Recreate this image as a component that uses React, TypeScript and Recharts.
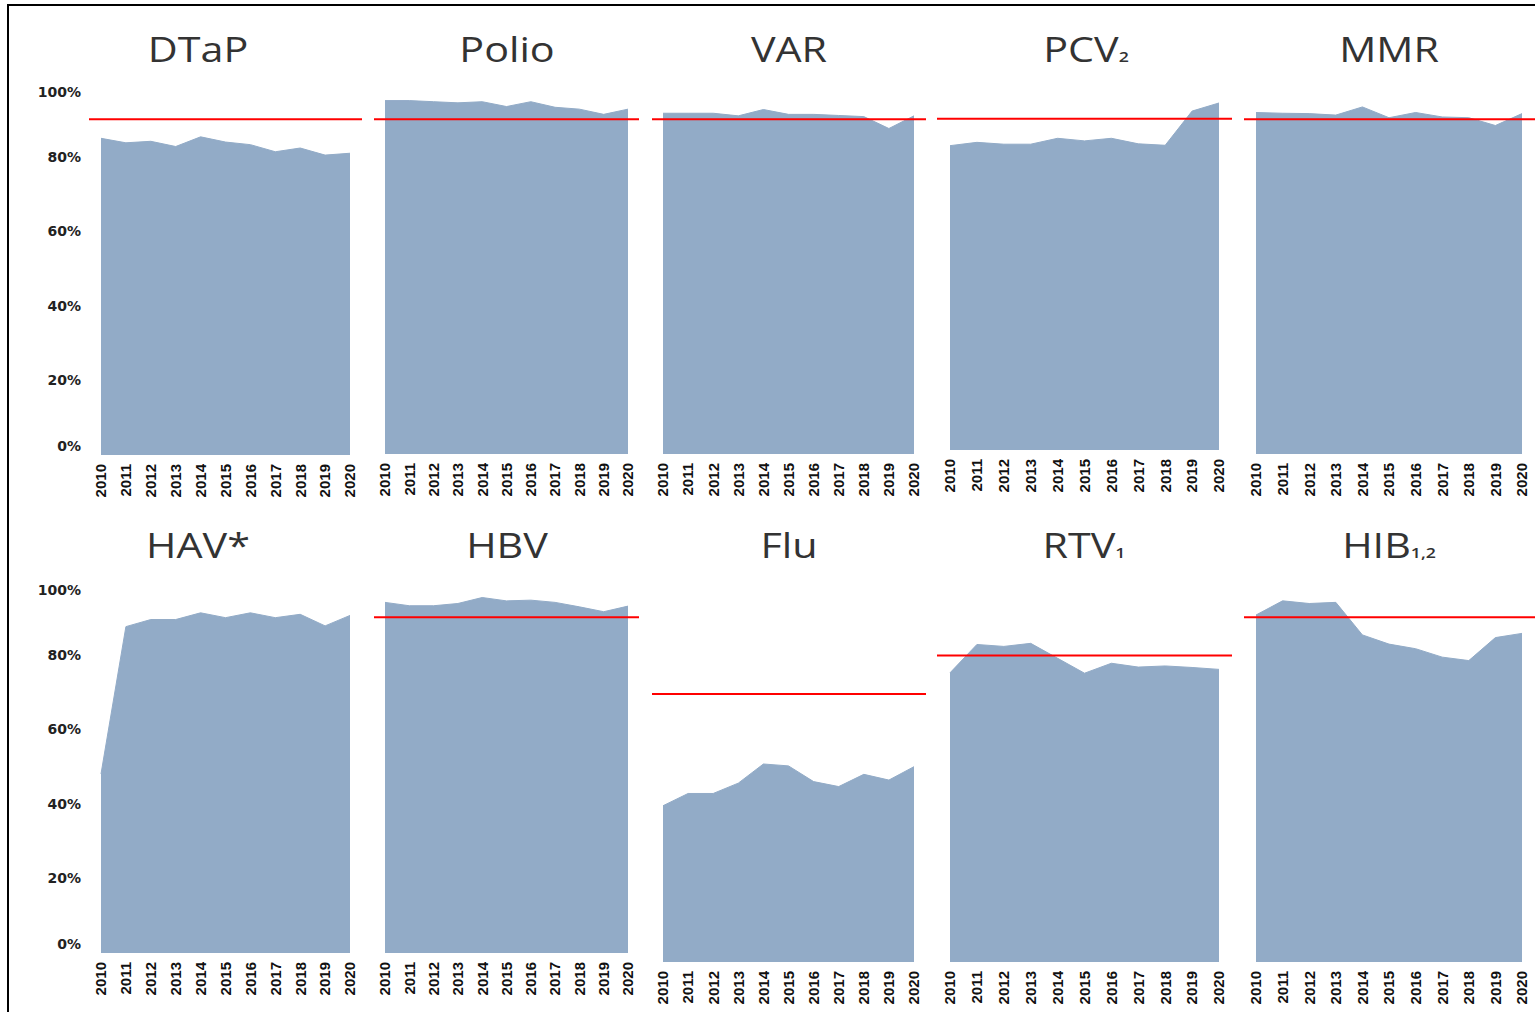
import React from "react";
import { AreaChart, Area, XAxis, YAxis, ReferenceLine } from "recharts";

// coverage by year, % of children
const years = ["2010", "2011", "2012", "2013", "2014", "2015", "2016", "2017", "2018", "2019", "2020"];

const dtap = [84.9, 83.7, 84.1, 82.7, 85.3, 83.9, 83.2, 81.3, 82.3, 80.4, 80.9];
const polio = [95.0, 95.0, 94.7, 94.4, 94.7, 93.4, 94.7, 93.2, 92.7, 91.3, 92.7];
const varicella = [91.6, 91.6, 91.6, 90.9, 92.6, 91.3, 91.3, 91.0, 90.7, 87.5, 90.9];
const pcv = [82.7, 83.6, 83.1, 83.1, 84.7, 84.0, 84.7, 83.2, 82.8, 92.1, 94.3];
const mmr = [91.8, 91.6, 91.5, 91.1, 93.3, 90.4, 91.8, 90.6, 90.4, 88.3, 91.5];
const hav = [48.0, 87.5, 89.4, 89.4, 91.2, 89.9, 91.2, 89.9, 90.8, 87.7, 90.5];
const hbv = [94.0, 93.1, 93.1, 93.7, 95.3, 94.4, 94.6, 94.0, 92.8, 91.5, 93.0];
const flu = [40.8, 44.0, 44.0, 46.7, 51.7, 51.2, 47.1, 45.8, 49.0, 47.5, 51.0];
const rtv = [75.5, 82.9, 82.4, 83.2, 79.3, 75.4, 78.0, 77.0, 77.3, 76.9, 76.4];
const hib = [90.6, 94.3, 93.6, 93.9, 85.4, 83.0, 81.8, 79.6, 78.7, 84.7, 85.8];

// Healthy People targets (red lines)
const targets = { dtap: 90, polio: 90, varicella: 90, pcv: 90, mmr: 90, hbv: 90, flu: 70, rtv: 80, hib: 90 };

const pctTicks = [0, 20, 40, 60, 80, 100];

const AREA_COLOR = "#92abc7";

type Panel = {
  title: string;
  sub?: string;
  values: number[];
  target?: number;
  plotL: number;
  plotR: number;
  plotT: number;
  plotB: number;
  dataL: number;
  dataR: number;
  axis?: boolean;
  titleX: number;
  titleY: number;
};

const panels: Panel[] = [
  { title: "DTaP", values: dtap, target: targets.dtap, plotL: 89, plotR: 362, plotT: 82, plotB: 455, dataL: 101, dataR: 350, axis: true, titleX: 198, titleY: 62 },
  { title: "Polio", values: polio, target: targets.polio, plotL: 374, plotR: 639, plotT: 82, plotB: 454, dataL: 385, dataR: 628, titleX: 507, titleY: 62 },
  { title: "VAR", values: varicella, target: targets.varicella, plotL: 652, plotR: 926, plotT: 82, plotB: 454, dataL: 663, dataR: 914, titleX: 789, titleY: 62 },
  { title: "PCV", sub: "2", values: pcv, target: targets.pcv, plotL: 937, plotR: 1232, plotT: 82, plotB: 450, dataL: 950, dataR: 1219, titleX: 1086, titleY: 62 },
  { title: "MMR", values: mmr, target: targets.mmr, plotL: 1244, plotR: 1535, plotT: 82, plotB: 454, dataL: 1256, dataR: 1522, titleX: 1389, titleY: 62 },
  { title: "HAV*", values: hav, plotL: 89, plotR: 362, plotT: 580, plotB: 953, dataL: 101, dataR: 350, axis: true, titleX: 198, titleY: 558 },
  { title: "HBV", values: hbv, target: targets.hbv, plotL: 374, plotR: 639, plotT: 580, plotB: 953, dataL: 385, dataR: 628, titleX: 507, titleY: 558 },
  { title: "Flu", values: flu, target: targets.flu, plotL: 652, plotR: 926, plotT: 579, plotB: 962, dataL: 663, dataR: 914, titleX: 789, titleY: 558 },
  { title: "RTV", sub: "1", values: rtv, target: targets.rtv, plotL: 937, plotR: 1232, plotT: 579, plotB: 962, dataL: 950, dataR: 1219, titleX: 1084, titleY: 558 },
  { title: "HIB", sub: "1,2", values: hib, target: targets.hib, plotL: 1244, plotR: 1535, plotT: 579, plotB: 962, dataL: 1256, dataR: 1522, titleX: 1389, titleY: 558 },
];

const YearTick = (props: any) => {
  const { x, y, payload } = props;
  return (
    <text
      x={x}
      y={y}
      dx={-1}
      dy="0.36em"
      transform={`rotate(-90 ${x} ${y})`}
      textAnchor="end"
      fontFamily="Liberation Sans, Arial, sans-serif"
      fontWeight="bold"
      fontSize={15}
      fill="#111"
    >
      {payload.value}
    </text>
  );
};

const PctTick = (props: any) => {
  const { x, y, payload } = props;
  // excel nudged the end labels inwards
  const shift = payload.value === 100 ? 10 : payload.value === 0 ? -9 : 0;
  return (
    <text
      x={x}
      y={y + shift}
      dy="0.36em"
      textAnchor="end"
      fontFamily="DejaVu Sans, sans-serif"
      fontWeight="bold"
      fontSize={14}
      fill="#222"
    >
      {payload.value}%
    </text>
  );
};

const MiniArea = ({ p }: { p: Panel }) => {
  const yW = p.axis ? 60 : 0;
  const mt = 14;
  const xH = 50;
  const width = p.plotR - p.plotL + yW;
  const height = p.plotB - p.plotT + mt + xH;
  const data = years.map((year, i) => ({ year, v: p.values[i] }));

  return (
    <div style={{ position: "absolute", left: p.plotL - yW, top: p.plotT - mt, width, height }}>
      <AreaChart width={width} height={height} data={data} margin={{ top: mt, right: 0, bottom: 0, left: 0 }}>
        <XAxis
          dataKey="year"
          interval={0}
          padding={{ left: p.dataL - p.plotL, right: p.plotR - p.dataR }}
          axisLine={false}
          tickLine={false}
          height={xH}
          tick={<YearTick />}
        />
        <YAxis
          hide={!p.axis}
          domain={[0, 100]}
          ticks={pctTicks}
          width={yW}
          axisLine={false}
          tickLine={false}
          tick={<PctTick />}
        />
        <Area
          type="linear"
          dataKey="v"
          fill={AREA_COLOR}
          fillOpacity={1}
          stroke={AREA_COLOR}
          strokeWidth={1}
          dot={false}
          activeDot={false}
          isAnimationActive={false}
        />
        {p.target !== undefined && (
          <ReferenceLine y={p.target} stroke="#ff0000" strokeWidth={2} ifOverflow="extendDomain" />
        )}
      </AreaChart>
    </div>
  );
};

export default function App() {
  return (
    <div
      style={{
        position: "absolute",
        left: 0,
        top: 0,
        width: 1535,
        height: 1012,
        overflow: "hidden",
        background: "#fff",
      }}
    >
      {/* frame of the original figure */}
      <div
        style={{
          position: "absolute",
          left: 7,
          top: 4,
          width: 1700,
          height: 1200,
          border: "2px solid #000",
        }}
      />
      {panels.map((p) => (
        <MiniArea key={p.title} p={p} />
      ))}
      <svg width={1535} height={1012} style={{ position: "absolute", left: 0, top: 0, pointerEvents: "none" }}>
        {panels.map((p) => (
          <text
            key={p.title}
            transform={`translate(${p.titleX} ${p.titleY}) scale(1.18 1)`}
            textAnchor="middle"
            fontFamily="Open Sans, sans-serif"
            fontSize={35}
            fill="#333"
          >
            {p.title}
            {p.sub && (
              <tspan fontSize={15} fontWeight={600}>
                {p.sub}
              </tspan>
            )}
          </text>
        ))}
      </svg>
    </div>
  );
}
